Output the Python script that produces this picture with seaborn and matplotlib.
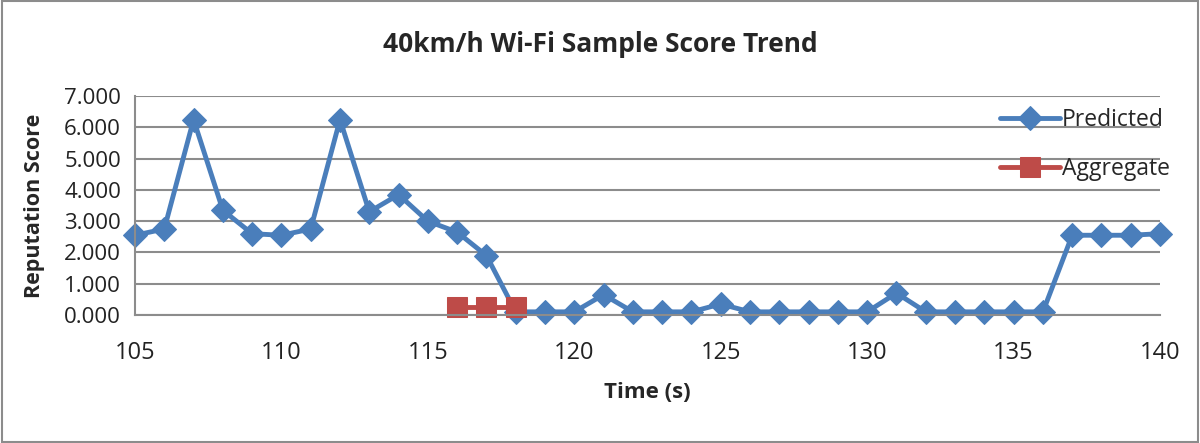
import numpy as np
import pandas as pd
import matplotlib
matplotlib.use("Agg")
import matplotlib.pyplot as plt
import seaborn as sns
from matplotlib.ticker import MultipleLocator, FormatStrFormatter

# Data
time_s = list(range(105, 141))
predicted = [2.55, 2.75, 6.25, 3.35, 2.60, 2.55, 2.75, 6.25, 3.30, 3.85,
             3.00, 2.65, 1.90, 0.10, 0.10, 0.10, 0.65, 0.10, 0.10, 0.10,
             0.35, 0.10, 0.10, 0.10, 0.10, 0.10, 0.70, 0.10, 0.10, 0.10,
             0.10, 0.10, 2.55, 2.55, 2.55, 2.60]
agg_time = [116, 117, 118]
aggregate = [0.25, 0.25, 0.25]

sns.set_style("white")
plt.rcParams['font.family'] = ['Open Sans', 'DejaVu Sans']

fig = plt.figure(figsize=(12, 4.43), dpi=100)
ax = fig.add_axes([0.1125, 0.289, 0.8542, 0.494])

grid_col = '#8c8c8c'
ax.yaxis.grid(True, color=grid_col, linewidth=1.5)
ax.set_axisbelow(True)

df_pred = pd.DataFrame({'t': time_s, 'score': predicted})
df_agg = pd.DataFrame({'t': agg_time, 'score': aggregate})

sns.lineplot(data=df_pred, x='t', y='score', ax=ax, color='#4a7ebb',
             linewidth=3.5, marker='D', markersize=12, markeredgecolor='#4a7ebb',
             label='Predicted', clip_on=False)
sns.lineplot(data=df_agg, x='t', y='score', ax=ax, color='#be4b48',
             linewidth=3.5, marker='s', markersize=14, markeredgecolor='#be4b48',
             label='Aggregate', clip_on=False)

ax.set_xlim(105, 140)
ax.set_ylim(0, 7)
ax.xaxis.set_major_locator(MultipleLocator(5))
ax.yaxis.set_major_locator(MultipleLocator(1))
ax.yaxis.set_major_formatter(FormatStrFormatter('%.3f'))

for side in ['top', 'right']:
    ax.spines[side].set_visible(False)
for side in ['left', 'bottom']:
    ax.spines[side].set_color(grid_col)
    ax.spines[side].set_linewidth(1.5)

ax.tick_params(axis='both', which='major', direction='out', length=7,
               width=1.5, color=grid_col, labelcolor='#222222')
ax.tick_params(axis='y', pad=3, labelsize=16)
ax.tick_params(axis='x', pad=12, labelsize=17)

ax.set_xlabel('Time (s)', fontsize=16, fontweight='bold', labelpad=12)
ax.set_ylabel('Reputation Score', fontsize=15.5, fontweight='bold', labelpad=14)
fig.suptitle('40km/h Wi-Fi Sample Score Trend', fontsize=19, fontweight='bold',
             y=0.93)

leg = ax.legend(loc='upper right', bbox_to_anchor=(1.03, 1.04), frameon=False,
                fontsize=16.5, handlelength=2.6, handletextpad=0.1,
                labelspacing=1.1)

# grey frame around the figure
fig.patches.append(plt.Rectangle((0.002, 0.003), 0.996, 0.994, transform=fig.transFigure,
                                 fill=False, edgecolor='#8c8c8c', linewidth=1.5))

plt.savefig('out.png', dpi=100)
